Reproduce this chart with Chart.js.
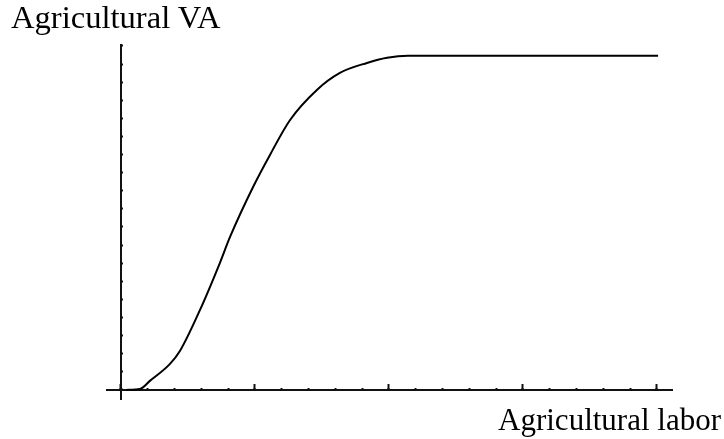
<!DOCTYPE html>
<html>
<head>
<meta charset="utf-8">
<script src="https://cdn.jsdelivr.net/npm/chart.js@4/dist/chart.umd.min.js"></script>
<style>
  body { margin: 0; background: #fff; }
  #wrap { position: relative; width: 724px; height: 439px; }
  #chart { position: absolute; left: 0; top: 0; }
  .label {
    position: absolute;
    font-family: 'Liberation Serif', 'Times New Roman', serif;
    font-size: 32px;
    line-height: 1;
    color: #000;
    white-space: nowrap;
  }
</style>
</head>
<body>
<div id="wrap">
  <canvas id="chart" width="724" height="439"></canvas>
  <div class="label" style="left: 11px; top: 1px; font-size: 32.6px;">Agricultural VA</div>
  <div class="label" style="right: 3px; top: 404px; font-size: 31px;">Agricultural labor</div>
</div>
<script>
// values (axis units = tick marks)
const laborValues = [0.19, 0.71, 1.08, 1.83, 2.20, 2.95, 3.69, 4.07, 4.93, 5.56, 6.31, 7.31, 8.17, 9.18, 9.93, 10.71, 20.04];
const vaValues = [0, 0.055, 0.50, 1.44, 2.15, 4.42, 7.01, 8.45, 11.21, 12.98, 14.91, 16.57, 17.51, 18.06, 18.34, 18.45, 18.45];

// axis ranges (ticks at every whole unit, longer x ticks every 5)
const xMin = -0.52, xMax = 20.56;
const yMin = -0.5, yMax = 19.05;

const points = laborValues.map((x, i) => ({ x: x, y: vaValues[i] }));

const ctx = document.getElementById('chart');

new Chart(ctx, {
  type: 'line',
  data: {
    datasets: [{
      data: points,
      borderColor: '#000',
      borderWidth: 2,
      pointRadius: 0,
      cubicInterpolationMode: 'monotone',
      fill: false
    }]
  },
  options: {
    responsive: false,
    animation: false,
    layout: { padding: { left: 107, right: 52, top: 45, bottom: 40 } },
    plugins: { legend: { display: false }, tooltip: { enabled: false } },
    scales: {
      x: {
        type: 'linear',
        min: xMin,
        max: xMax,
        position: { y: 0 },
        ticks: { display: false, stepSize: 1, includeBounds: false },
        grid: { drawOnChartArea: false, tickLength: -3, tickWidth: 2, tickColor: '#111' },
        border: { color: '#111', width: 2 }
      },
      xMajor: {
        type: 'linear',
        axis: 'x',
        min: xMin,
        max: xMax,
        position: { y: 0 },
        ticks: { display: false, stepSize: 5, includeBounds: false },
        grid: { drawOnChartArea: false, tickLength: -6, tickWidth: 2, tickColor: '#111' },
        border: { display: false }
      },
      y: {
        type: 'linear',
        min: yMin,
        max: yMax,
        position: { x: 0 },
        ticks: { display: false, stepSize: 1, includeBounds: false },
        grid: { drawOnChartArea: false, tickLength: -3, tickWidth: 2, tickColor: '#111' },
        border: { color: '#111', width: 2 }
      }
    }
  }
});
</script>
</body>
</html>
